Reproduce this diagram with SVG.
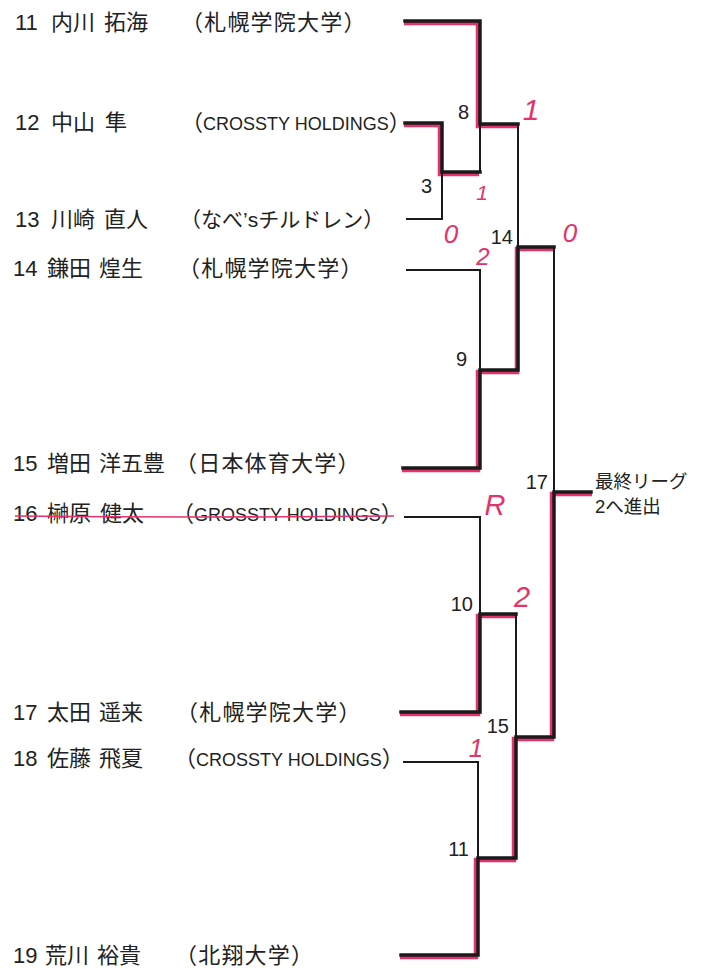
<svg xmlns="http://www.w3.org/2000/svg" width="707" height="969" viewBox="0 0 707 969">
<style>
.nm{font-family:"Liberation Sans","Noto Sans CJK JP",sans-serif;font-size:22px;fill:#222}
.org{letter-spacing:1.2px}
.lt{font-family:"Liberation Sans","Noto Sans CJK JP",sans-serif;font-size:18px;letter-spacing:0}
.lb{font-family:"Liberation Sans","Noto Sans CJK JP",sans-serif;font-size:20px;fill:#222;text-anchor:end}
.nt{font-family:"Liberation Sans","Noto Sans CJK JP",sans-serif;font-size:18.5px;fill:#222}
.hw{font-family:"Liberation Sans",sans-serif;font-style:italic;fill:#e2336b;text-anchor:middle}
.red{fill:none;stroke:#e2336b;stroke-width:4.5;stroke-linejoin:miter;stroke-linecap:butt}
.thin{fill:none;stroke:#1a1a1a;stroke-width:2}
.thick{fill:none;stroke:#1a1a1a;stroke-width:3.5;stroke-linecap:square}
</style>
<rect width="707" height="969" fill="#fff"/>

<g id="players">
<g id="p11"><text class="nm" y="30"><tspan x="15">11</tspan><tspan x="51">内川</tspan><tspan x="104">拓海</tspan><tspan class="org" x="181">（札幌学院大学）</tspan></text></g>
<g id="p12"><text class="nm" y="130"><tspan x="15">12</tspan><tspan x="51">中山</tspan><tspan x="105">隼</tspan><tspan x="181">（<tspan class="lt">CROSSTY HOLDINGS</tspan>）</tspan></text></g>
<g id="p13"><text class="nm" y="227"><tspan x="15">13</tspan><tspan x="51">川崎</tspan><tspan x="104">直人</tspan><tspan x="180" font-size="21">（なべ’sチルドレン）</tspan></text></g>
<g id="p14"><text class="nm" y="276"><tspan x="13">14</tspan><tspan x="47">鎌田</tspan><tspan x="99">煌生</tspan><tspan class="org" x="178">（札幌学院大学）</tspan></text></g>
<g id="p15"><text class="nm" y="471"><tspan x="13">15</tspan><tspan x="47">増田</tspan><tspan x="99">洋五豊</tspan><tspan class="org" x="175">（日本体育大学）</tspan></text></g>
<g id="p16"><text class="nm" y="521"><tspan x="13">16</tspan><tspan x="47">榊原</tspan><tspan x="100">健太</tspan><tspan x="172">（<tspan class="lt">GROSSTY HOLDINGS</tspan>）</tspan></text>
<path d="M15,516 Q200,518 394,516" fill="none" stroke="#e2336b" stroke-width="1.6"/></g>
<g id="p17"><text class="nm" y="720"><tspan x="13">17</tspan><tspan x="47">太田</tspan><tspan x="99">遥来</tspan><tspan class="org" x="176">（札幌学院大学）</tspan></text></g>
<g id="p18"><text class="nm" y="766"><tspan x="13">18</tspan><tspan x="47">佐藤</tspan><tspan x="99">飛夏</tspan><tspan x="174">（<tspan class="lt">CROSSTY HOLDINGS</tspan>）</tspan></text></g>
<g id="p19"><text class="nm" y="963"><tspan x="13">19</tspan><tspan x="45">荒川</tspan><tspan x="97">裕貴</tspan><tspan class="org" x="175">（北翔大学）</tspan></text></g>
</g>

<g id="connectors">
<path class="red" d="M404,23 H478 V126 H517"/>
<path class="red" d="M404,125 H440 V174 H479"/>
<path class="red" d="M402,470 H478 V372 H517 V249 H555"/>
<path class="red" d="M400,714 H478 V616 H516"/>
<path class="red" d="M400,957 H476 V860 H514 V739 H552 V494 H592"/>
<path class="thin" d="M406,219 H442 V172"/>
<path class="thin" d="M480,124 V172"/>
<path class="thin" d="M518,124 V247"/>
<path class="thin" d="M406,270 H480 V370"/>
<path class="thin" d="M554,247 V492"/>
<path class="thin" d="M404,517 H480 V614"/>
<path class="thin" d="M516,614 V737"/>
<path class="thin" d="M403,762 H478 V858"/>
<path class="thick" d="M405,21 H480 V124 H518"/>
<path class="thick" d="M405,123 H442 V172 H480"/>
<path class="thick" d="M403,468 H480 V370 H518 V247 H554"/>
<path class="thick" d="M401,712 H480 V614 H516"/>
<path class="thick" d="M401,955 H478 V858 H516 V737 H554 V492 H591"/>
</g>

<g id="matches">
<g id="m8"><text class="lb" x="469" y="119">8</text></g>
<g id="m3"><text class="lb" x="432" y="193">3</text></g>
<g id="m14"><text class="lb" x="513" y="244">14</text></g>
<g id="m9"><text class="lb" x="467" y="366">9</text></g>
<g id="m17"><text class="lb" x="548" y="489">17</text></g>
<g id="m10"><text class="lb" x="473" y="611">10</text></g>
<g id="m15"><text class="lb" x="509" y="733">15</text></g>
<g id="m11"><text class="lb" x="469" y="856">11</text></g>
</g>

<g id="result"><text class="nt" x="595" y="488">最終リーグ</text><text class="nt" x="595" y="513">2へ進出</text></g>

<g id="scores">
<text class="hw" x="531" y="120" font-size="30">1</text>
<text class="hw" x="482" y="200" font-size="21">1</text>
<text class="hw" x="451" y="243" font-size="26">0</text>
<text class="hw" x="570" y="242" font-size="26">0</text>
<text class="hw" x="483" y="265" font-size="24">2</text>
<text class="hw" x="495" y="515" font-size="29">R</text>
<text class="hw" x="522" y="607" font-size="29">2</text>
<text class="hw" x="476" y="757" font-size="26">1</text>
</g>
</svg>
